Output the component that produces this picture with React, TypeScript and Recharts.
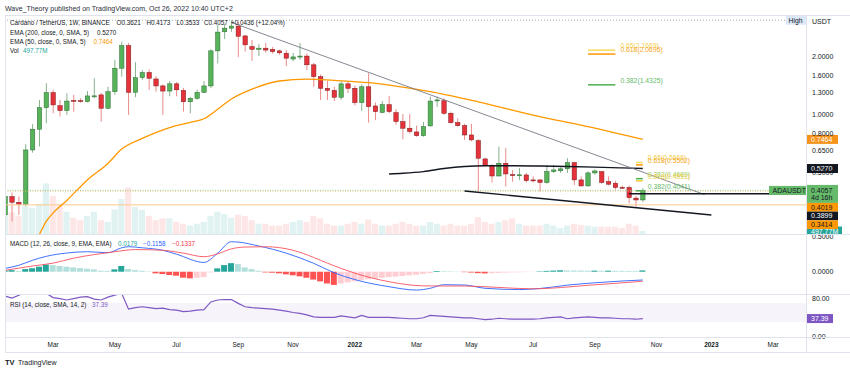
import React from 'react';
import { ComposedChart, Bar, Line, XAxis, YAxis, ReferenceLine, ReferenceArea, Cell } from 'recharts';

const FONT = '"Liberation Sans", Arial, Helvetica, sans-serif';
const TXT = '#131722';

// ---------- weekly candles ADA/USDT (index 0 = week of Jan 11 2021 ... 93 = Oct 24 2022)
const opens = [0.303,0.377,0.352,0.344,0.658,0.843,1.09,1.306,1.117,1.053,1.19,1.186,1.172,1.255,1.27,1.083,1.32,1.747,2.29,1.31,1.56,1.66,1.537,1.414,1.33,1.45,1.34,1.17,1.22,1.31,1.414,2.15,2.70,2.82,2.89,2.57,2.26,2.19,2.22,2.19,2.15,2.09,1.95,2.0,2.02,1.82,1.58,1.375,1.34,1.235,1.45,1.375,1.158,1.40,1.113,1.03,1.13,1.028,0.923,0.853,0.816,0.78,0.877,1.19,1.186,1.02,0.912,0.88,0.787,0.736,0.591,0.546,0.482,0.561,0.490,0.487,0.488,0.460,0.46,0.446,0.508,0.513,0.525,0.566,0.46,0.428,0.50,0.508,0.451,0.442,0.421,0.42,0.37,0.3621];
const highs = [0.39,0.395,0.377,0.705,0.895,1.196,1.46,1.35,1.196,1.296,1.27,1.22,1.33,1.55,1.30,1.40,1.93,2.40,2.36,1.88,1.71,1.72,1.59,1.44,1.50,1.48,1.38,1.24,1.35,1.50,2.19,2.93,2.96,3.10,3.04,2.60,2.45,2.33,2.36,2.25,2.18,2.17,2.10,2.36,2.08,1.86,1.62,1.50,1.40,1.50,1.50,1.42,1.44,1.645,1.16,1.18,1.255,1.07,1.01,1.012,0.88,0.92,1.245,1.245,1.22,1.04,0.96,0.90,0.898,0.75,0.60,0.555,0.685,0.672,0.518,0.53,0.50,0.48,0.461,0.55,0.55,0.535,0.596,0.57,0.48,0.51,0.52,0.512,0.48,0.455,0.43,0.43,0.38,0.4173];
const lows = [0.29,0.28,0.303,0.335,0.637,0.685,0.905,1.02,0.98,1.0,1.04,1.16,1.16,1.22,0.923,1.07,1.27,1.58,1.0,1.235,1.52,1.35,1.32,1.0,1.25,1.25,1.04,1.02,1.20,1.30,1.376,1.85,2.48,2.70,2.0,2.13,1.91,2.02,2.10,2.08,2.05,1.79,1.90,1.93,1.71,1.40,1.196,1.196,1.18,1.20,1.30,1.12,1.05,0.912,0.94,1.02,1.02,0.887,0.748,0.80,0.77,0.77,0.87,1.10,1.0,0.90,0.87,0.742,0.73,0.40,0.54,0.446,0.48,0.425,0.45,0.46,0.446,0.446,0.40,0.44,0.50,0.50,0.50,0.433,0.425,0.425,0.49,0.44,0.43,0.41,0.415,0.348,0.334,0.3533];
const closes = [0.377,0.352,0.344,0.658,0.843,1.09,1.306,1.127,1.053,1.18,1.182,1.183,1.255,1.256,1.083,1.32,1.747,2.29,1.31,1.56,1.66,1.55,1.414,1.33,1.45,1.35,1.17,1.22,1.31,1.414,2.15,2.69,2.82,2.89,2.56,2.31,2.19,2.22,2.17,2.13,2.10,1.97,2.0,2.02,1.82,1.58,1.375,1.34,1.235,1.45,1.375,1.158,1.40,1.104,1.04,1.13,1.04,0.923,0.853,0.82,0.78,0.87,1.18,1.196,1.02,0.912,0.88,0.787,0.742,0.596,0.546,0.482,0.561,0.494,0.487,0.489,0.456,0.459,0.446,0.508,0.518,0.525,0.566,0.46,0.428,0.50,0.512,0.446,0.437,0.42,0.419,0.372,0.362,0.4057];
// volume, millions of ADA
const volumeM = [3300,3600,3000,4600,4300,5000,8400,6300,5000,3700,2700,2300,3000,3700,2300,2000,4100,5800,7700,4500,4000,3000,2300,2600,2600,2000,1700,1400,1700,2000,3000,3700,3300,2700,3200,3000,2300,1700,1700,1400,1400,1700,2000,2300,2000,3000,2600,1700,1400,1400,1700,2000,1700,2400,1700,1400,1400,1700,2000,1700,1400,1400,2000,1700,1400,1700,1400,1400,1700,2800,2000,1700,2000,2300,2600,1700,1400,1400,1400,1700,1400,1000,1400,1700,1500,1400,1200,1200,1200,1200,1000,1700,1400,497.77];

// moving averages: [week index, value]
const ema50Pts: [number, number][] = [[4,0.21],[5,0.24],[6,0.28],[7,0.31],[9,0.36],[12,0.46],[15,0.56],[17,0.665],[20,0.755],[24,0.86],[27,0.915],[29,0.955],[31,1.07],[33,1.21],[36,1.36],[40,1.50],[44,1.535],[48,1.51],[53,1.47],[57,1.41],[62,1.32],[69,1.17],[78,0.98],[84,0.885],[93,0.7464]];
const ema200Pts: [number, number][] = [[56,0.494],[58,0.498],[61,0.508],[64,0.527],[67,0.54],[70,0.545],[74,0.545],[78,0.543],[82,0.54],[86,0.536],[90,0.531],[93,0.527]];

// drawn trend lines: [week index, price]
const upperTrend: [number, number][] = [[33,3.02],[102,0.386]];
const lowerTrend: [number, number][] = [[67,0.403],[103,0.3025]];
const supportRay: [number, number][] = [[91,0.3899],[117,0.3899]];

// horizontal levels
const allTimeHigh = 3.10;
const lastClose = 0.4057;
const ema200Last = 0.5270;
const ema50Last = 0.7464;
const orangeDotted = 0.4019;
const orangeSolid = 0.3414;
const stackedLevels = [
  { value: 0.4019, bg: '#ff9800', fg: TXT },
  { value: 0.3899, bg: '#131722', fg: '#ffffff' },
  { value: 0.3414, bg: '#ff9800', fg: TXT },
];
const lastVolumeM = 497.77;

// fibonacci levels
const fibUpperSpan = [85, 89];
const fibUpper = [
  { text: '0.65(2.1669)', value: 2.1669, line: '#f7dc5a', color: '#f2cf4a' },
  { text: '0.618(2.0695)', value: 2.0695, line: '#ff9800', color: '#f5a623' },
  { text: '0.382(1.4325)', value: 1.4325, line: '#4caf50', color: '#66bb6a' },
];
const fibLowerSpan = [92, 93];
const fibLower = [
  { text: '0.65(0.5666)', value: 0.5666, line: '#f7dc5a', color: '#f2cf4a' },
  { text: '0.618(0.5502)', value: 0.5502, line: '#ff9800', color: '#f5a623' },
  { text: '0.382(0.4669)', value: 0.4669, line: '#4caf50', color: '#9ccc65' },
  { text: '0.618(0.4551)', value: 0.4551, line: '#f7d23a', color: '#f2cf4a' },
  { text: '0.382(0.4041)', value: 0.4041, line: '#4caf50', color: '#66bb6a' },
];

// MACD (12, 26, 9)
const macdPts: [number, number][] = [[0,0.047],[2,0.09],[4,0.16],[6,0.215],[9,0.262],[12,0.28],[15,0.266],[17,0.335],[18,0.35],[20,0.335],[23,0.30],[25,0.245],[29,0.13],[31,0.26],[33,0.42],[34,0.415],[37,0.36],[41,0.26],[45,0.118],[48,-0.015],[51,-0.11],[56,-0.21],[60,-0.257],[62,-0.232],[64,-0.182],[67,-0.186],[70,-0.232],[75,-0.25],[78,-0.235],[82,-0.188],[86,-0.155],[90,-0.13],[93,-0.1158]];
const signalPts: [number, number][] = [[0,0.02],[4,0.08],[7,0.12],[10,0.19],[13,0.24],[16,0.28],[19,0.31],[23,0.30],[26,0.26],[29,0.21],[31,0.25],[33,0.32],[35,0.345],[38,0.35],[42,0.30],[45,0.20],[47,0.12],[51,-0.02],[56,-0.14],[61,-0.198],[64,-0.20],[67,-0.20],[72,-0.22],[77,-0.24],[81,-0.222],[85,-0.19],[88,-0.17],[93,-0.1337]];
const histogram = [0.018,0.022,0.012,0.037,0.047,0.07,0.10,0.093,0.08,0.07,0.06,0.05,0.042,0.033,0.014,0.012,0.033,0.08,0.037,0.023,0.014,0.005,-0.023,-0.033,-0.047,-0.056,-0.084,-0.093,-0.084,-0.075,-0.01,0.047,0.093,0.12,0.107,0.06,0.037,0.014,-0.01,-0.014,-0.023,-0.037,-0.05,-0.065,-0.085,-0.11,-0.135,-0.165,-0.185,-0.165,-0.15,-0.135,-0.12,-0.105,-0.095,-0.085,-0.075,-0.068,-0.06,-0.05,-0.042,-0.03,-0.02,0.01,0.008,0.006,0.004,-0.006,-0.012,-0.02,-0.024,-0.02,-0.016,-0.012,-0.01,-0.008,-0.005,-0.003,0.006,0.012,0.016,0.02,0.018,0.017,0.016,0.015,0.015,0.014,0.014,0.013,0.012,0.011,0.01,0.0179];

// RSI (14)
const rsi = [84,80,86,92,94,93,90,81,79,76,79,82,83,78,76,82,86,90,57,60,62,60,58,59,56,55,52,53,55,56,72,76,77,77,69,62,60,59,58,57,55,53,50,48,45,41,40,40,40,43,41,39,44,40,40,40,40,39,38,37,37,39,44,43,42,41,40,39,39,37,35,36,38,37,36,36,36,36,37,39,40,41,37,39,40,41,40,39,39,38,37,37,36,37.39];

const priceTicks = [2, 1.6, 1.3, 1, 0.8, 0.65, 0.5];
const monthTicks = [7, 16, 25, 34, 42, 51, 60, 68, 77, 86, 95, 103, 112];
const monthLabels = ['Mar', 'May', 'Jul', 'Sep', 'Nov', '2022', 'Mar', 'May', 'Jul', 'Sep', 'Nov', '2023', 'Mar'];

// ---------- tables ----------
const X_DOMAIN: [number, number] = [-0.015, 116.8];
const N_ROWS = 118;
const m50 = new Map(ema50Pts);
const m200 = new Map(ema200Pts);
const mUp = new Map(upperTrend);
const mLow = new Map(lowerTrend);
const mRay = new Map(supportRay);
const mMacd = new Map(macdPts);
const mSig = new Map(signalPts);

const mainRows = Array.from({ length: N_ROWS }, (_, i) => {
  const r: any = { x: i };
  if (i < opens.length) {
    r.o = opens[i]; r.h = highs[i]; r.l = lows[i]; r.c = closes[i];
    r.range = [lows[i], highs[i]];
  }
  r.ema50 = m50.has(i) ? m50.get(i) : null;
  r.ema200 = m200.has(i) ? m200.get(i) : null;
  r.upper = mUp.has(i) ? mUp.get(i) : null;
  r.lower = mLow.has(i) ? mLow.get(i) : null;
  r.ray = mRay.has(i) ? mRay.get(i) : null;
  return r;
});
const volRows = volumeM.map((v, i) => ({ x: i, v, up: closes[i] >= opens[i] }));
const macdRows = histogram.map((h, i) => ({
  x: i, hist: h,
  macd: mMacd.has(i) ? mMacd.get(i) : null,
  signal: mSig.has(i) ? mSig.get(i) : null,
}));
const histColor = (i: number) => {
  const v = histogram[i];
  const p = i > 0 ? histogram[i - 1] : v;
  if (v >= 0) return v >= p ? '#26a69a' : '#b2dfdb';
  return v < p ? '#ff5252' : '#ffcdd2';
};
const rsiRows = rsi.map((v, i) => ({ x: i, rsi: v }));

// ---------- shapes ----------
const Candle = (props: any) => {
  const { x, y, width, height, payload } = props;
  if (!payload || payload.o == null || !isFinite(y) || !isFinite(height)) return null;
  const { o, h, l, c } = payload;
  const yHi = Math.min(y, y + height);
  const yLo = Math.max(y, y + height);
  const lh = Math.log(h), ll = Math.log(l);
  const span = lh - ll;
  const toY = (p: number) => (span > 0 ? yHi + ((lh - Math.log(p)) / span) * (yLo - yHi) : yHi);
  const cx = x + width / 2;
  const up = c >= o;
  const bTop = toY(Math.max(o, c));
  const bBot = toY(Math.min(o, c));
  const bw = 4.4;
  return (
    <g>
      <line x1={cx} x2={cx} y1={yHi} y2={yLo} stroke={up ? '#86b28d' : '#e88a8a'} strokeWidth={1} />
      <rect x={cx - bw / 2} y={bTop} width={bw} height={Math.max(bBot - bTop, 1)}
        fill={up ? '#56b35a' : '#e5323b'} stroke={up ? '#2e6b31' : '#7d1b1b'} strokeWidth={0.5} />
    </g>
  );
};

const AxisBox = (props: any) => {
  const { viewBox, text, bg, fg, w = 32 } = props;
  if (!viewBox) return null;
  const x = viewBox.x + viewBox.width;
  const y = viewBox.y;
  return (
    <g>
      <rect x={x} y={y - 4.5} width={w} height={9} fill={bg} />
      <text x={x + 5} y={y + 2.5} fontSize={7} fill={fg} fontFamily={FONT}>{text}</text>
    </g>
  );
};

const PriceStack = (props: any) => {
  const { viewBox } = props;
  if (!viewBox) return null;
  const x = viewBox.x + viewBox.width;
  const y = viewBox.y;
  const top = y - 5.5;
  return (
    <g>
      <rect x={x - 37} y={y - 4.5} width={37} height={9} fill="#66bb6a" />
      <text x={x - 33.5} y={y + 2.5} fontSize={7} fill={TXT} fontFamily={FONT}>ADAUSDT</text>
      <rect x={x} y={top} width={32} height={18} fill="#66bb6a" />
      <text x={x + 5} y={y + 2.5} fontSize={7} fill={TXT} fontFamily={FONT}>{lastClose.toFixed(4)}</text>
      <text x={x + 5} y={y + 9.8} fontSize={7} fill={TXT} fontFamily={FONT}>4d 16h</text>
      {stackedLevels.map((s, k) => {
        const t = top + 18 + k * 8.7;
        return (
          <g key={s.value}>
            <rect x={x} y={t} width={32} height={8.7} fill={s.bg} />
            <text x={x + 5} y={t + 6.8} fontSize={7} fill={s.fg} fontFamily={FONT}>{s.value.toFixed(4)}</text>
          </g>
        );
      })}
    </g>
  );
};

const HighTag = (props: any) => {
  const { viewBox } = props;
  if (!viewBox) return null;
  const x = viewBox.x + viewBox.width;
  const y = viewBox.y;
  return (
    <g>
      <rect x={x - 20} y={y - 4.5} width={20} height={9} fill="#dde8f7" />
      <text x={x - 17.5} y={y + 2.4} fontSize={6.8} fill={TXT} fontFamily={FONT}>High</text>
    </g>
  );
};

const FibLabel = (props: any) => {
  const { viewBox, text, color } = props;
  if (!viewBox) return null;
  const x = viewBox.x + (viewBox.width || 0) + 5;
  const y = viewBox.y;
  return <text x={x} y={y - 2} fontSize={6.8} fill={color} fontFamily={FONT}>{text}</text>;
};

const TimeTick = (props: any) => {
  const { x, y, payload } = props;
  const idx = monthTicks.indexOf(payload.value);
  const label = idx >= 0 ? monthLabels[idx] : '';
  const bold = /^\d{4}$/.test(label);
  return (
    <text x={x} y={y + 7.5} textAnchor="middle" fontSize={6.5} fontFamily={FONT} fill={TXT} fontWeight={bold ? 700 : 400}>{label}</text>
  );
};

const tickStyle = { fontSize: 7, fill: TXT, fontFamily: FONT };

export default function App() {
  return (
    <div style={{ position: 'absolute', left: 0, top: 0, width: 850, height: 371, background: '#fff', overflow: 'hidden', fontFamily: FONT }}>
      {/* volume underlay */}
      <div style={{ position: 'absolute', left: 0, top: 15 }}>
        <ComposedChart width={850} height={219} data={volRows} margin={{ top: 0, right: 44, bottom: 0, left: 5 }}>
          <XAxis dataKey="x" type="number" domain={X_DOMAIN} hide allowDataOverflow />
          <YAxis domain={[0, 36350]} hide allowDataOverflow />
          <Bar dataKey="v" barSize={7} isAnimationActive={false}>
            {volRows.map((r, i) => (
              <Cell key={i} fill={r.up ? '#26a69a' : '#ef5350'} fillOpacity={0.14} />
            ))}
          </Bar>
          <ReferenceLine y={lastVolumeM} stroke="none" ifOverflow="visible"
            label={<AxisBox text="497.77M" bg="#26a69a" fg="#ffffff" w={36} />} />
        </ComposedChart>
      </div>

      {/* price pane */}
      <div style={{ position: 'absolute', left: 0, top: 15 }}>
        <ComposedChart width={850} height={219} data={mainRows} margin={{ top: 0, right: 0, bottom: 0, left: 5 }}>
          <XAxis dataKey="x" type="number" domain={X_DOMAIN} hide allowDataOverflow />
          <YAxis orientation="right" scale="log" domain={[0.241, 3.3]} allowDataOverflow width={44}
            ticks={priceTicks} tickFormatter={(v: number) => v.toFixed(4)} axisLine={false} tickLine={false}
            tickSize={0} tickMargin={6} tick={tickStyle} interval={0} />
          <ReferenceLine y={allTimeHigh} stroke="#9598a1" strokeDasharray="1 2" strokeWidth={0.8} label={<HighTag />} />
          <ReferenceLine y={orangeSolid} stroke="#fcc98c" strokeWidth={1} />
          <ReferenceLine y={orangeDotted} stroke="#fbbf70" strokeDasharray="1 1.5" strokeWidth={0.8} />
          <ReferenceLine y={lastClose} stroke="#81c784" strokeDasharray="1 1.5" strokeWidth={0.8} />
          <Bar dataKey="range" barSize={5} isAnimationActive={false} shape={(p: any) => <Candle {...p} />} />
          <Line dataKey="ema50" type="monotone" stroke="#ff9800" strokeWidth={1.3} dot={false} connectNulls isAnimationActive={false} />
          <Line dataKey="ema200" type="monotone" stroke="#131722" strokeWidth={1.4} dot={false} connectNulls isAnimationActive={false} />
          <Line dataKey="upper" type="linear" stroke="#787b86" strokeWidth={0.9} dot={false} connectNulls isAnimationActive={false} />
          <Line dataKey="lower" type="linear" stroke="#131722" strokeWidth={1.4} dot={false} connectNulls isAnimationActive={false} />
          <Line dataKey="ray" type="linear" stroke="#131722" strokeWidth={1.4} dot={false} connectNulls isAnimationActive={false} />
          {fibUpper.map((f) => (
            <ReferenceLine key={f.text} segment={[{ x: fibUpperSpan[0], y: f.value }, { x: fibUpperSpan[1], y: f.value }]}
              stroke={f.line} strokeWidth={1.5} ifOverflow="visible" label={<FibLabel text={f.text} color={f.color} />} />
          ))}
          {fibLower.map((f) => (
            <ReferenceLine key={f.text} segment={[{ x: fibLowerSpan[0], y: f.value }, { x: fibLowerSpan[1], y: f.value }]}
              stroke={f.line} strokeWidth={1.5} ifOverflow="visible" label={<FibLabel text={f.text} color={f.color} />} />
          ))}
          <ReferenceLine y={ema50Last} stroke="none" ifOverflow="visible" label={<AxisBox text={ema50Last.toFixed(4)} bg="#f7931a" fg="#ffffff" />} />
          <ReferenceLine y={ema200Last} stroke="none" ifOverflow="visible" label={<AxisBox text={ema200Last.toFixed(4)} bg="#131722" fg="#ffffff" />} />
          <ReferenceLine y={lastClose} stroke="none" ifOverflow="visible" label={<PriceStack />} />
        </ComposedChart>
      </div>

      {/* MACD pane */}
      <div style={{ position: 'absolute', left: 0, top: 234 }}>
        <ComposedChart width={850} height={60} data={macdRows} margin={{ top: 0, right: 0, bottom: 0, left: 5 }}>
          <XAxis dataKey="x" type="number" domain={X_DOMAIN} hide allowDataOverflow />
          <YAxis orientation="right" domain={[-0.312, 0.528]} allowDataOverflow width={44} ticks={[0.5, 0]}
            tickFormatter={(v: number) => v.toFixed(4)} axisLine={false} tickLine={false} tickSize={0} tickMargin={6}
            tick={tickStyle} interval={0} />
          <Bar dataKey="hist" barSize={6} isAnimationActive={false}>
            {macdRows.map((r, i) => <Cell key={i} fill={histColor(i)} />)}
          </Bar>
          <Line dataKey="macd" type="monotone" stroke="#2962ff" strokeWidth={0.9} dot={false} connectNulls isAnimationActive={false} />
          <Line dataKey="signal" type="monotone" stroke="#f7525f" strokeWidth={0.9} dot={false} connectNulls isAnimationActive={false} />
        </ComposedChart>
      </div>

      {/* RSI pane + time axis */}
      <div style={{ position: 'absolute', left: 0, top: 294 }}>
        <ComposedChart width={850} height={58} data={rsiRows} margin={{ top: 0, right: 0, bottom: 0, left: 5 }}>
          <XAxis dataKey="x" type="number" domain={X_DOMAIN} allowDataOverflow ticks={monthTicks} interval={0}
            height={15} axisLine={false} tickLine={false} tickSize={0} tick={<TimeTick />} />
          <YAxis orientation="right" domain={[-1, 88.5]} allowDataOverflow width={44} ticks={[80, 0]}
            tickFormatter={(v: number) => v.toFixed(2)} axisLine={false} tickLine={false} tickSize={0} tickMargin={6}
            tick={tickStyle} interval={0} />
          <ReferenceArea y1={30} y2={70} fill="#7e57c2" fillOpacity={0.07} stroke="none" />
          <Line dataKey="rsi" type="linear" stroke="#7e57c2" strokeWidth={1.2} dot={false} isAnimationActive={false} />
          <ReferenceLine y={rsi[rsi.length - 1]} stroke="none" ifOverflow="visible"
            label={<AxisBox text={rsi[rsi.length - 1].toFixed(2)} bg="#7e57c2" fg="#ffffff" w={27} />} />
        </ComposedChart>
      </div>

      {/* chrome and legends */}
      <svg width={850} height={371} style={{ position: 'absolute', left: 0, top: 0, pointerEvents: 'none' }}>
        <g stroke="#e0e3eb" strokeWidth={1}>
          <line x1={5} x2={850} y1={15.5} y2={15.5} />
          <line x1={5} x2={850} y1={234.5} y2={234.5} />
          <line x1={5} x2={850} y1={294.5} y2={294.5} />
          <line x1={5} x2={850} y1={337.5} y2={337.5} />
          <line x1={5} x2={850} y1={352.5} y2={352.5} />
          <line x1={806.5} x2={806.5} y1={15} y2={353} />
          <line x1={5.5} x2={5.5} y1={15} y2={353} />
        </g>
        <text x={5} y={10.5} fontSize={7} fill="#2a2e39" fontFamily={FONT}>Wave_Theory published on TradingView.com, Oct 26, 2022 10:40 UTC+2</text>
        <g fontSize={6.3} fontFamily={FONT} fill={TXT}>
          <text x={10} y={25}>Cardano / TetherUS, 1W, BINANCE</text>
          <text x={116.5} y={25}>O0.3621</text>
          <text x={146.5} y={25}>H0.4173</text>
          <text x={176.5} y={25}>L0.3533</text>
          <text x={204} y={25}>C0.4057</text>
          <text x={231} y={25}>+0.0436 (+12.04%)</text>
          <text x={10} y={34.5}>EMA (200, close, 0, SMA, 5)</text>
          <text x={97} y={34.5}>0.5270</text>
          <text x={10} y={43.5}>EMA (50, close, 0, SMA, 5)</text>
          <text x={93.5} y={43.5} fill="#ff9800">0.7464</text>
          <text x={10} y={52.5}>Vol</text>
          <text x={23} y={52.5} fill="#26a69a">497.77M</text>
          <text x={10} y={246}>MACD (12, 26, close, 9, EMA, EMA)</text>
          <text x={118} y={246} fill="#26a69a">0.0179</text>
          <text x={143} y={246} fill="#2962ff">−0.1158</text>
          <text x={172} y={246} fill="#f23645">−0.1337</text>
          <text x={10} y={306.5}>RSI (14, close, SMA, 14, 2)</text>
          <text x={92} y={306.5} fill="#7e57c2">37.39</text>
        </g>
        <text x={812} y={23.5} fontSize={7} fill={TXT} fontFamily={FONT}>USDT</text>
        <text x={5} y={364.5} fontSize={7.5} fontWeight={700} fill={TXT} fontFamily={FONT}>TV</text>
        <text x={18} y={364.5} fontSize={7} fill={TXT} fontFamily={FONT}>TradingView</text>
      </svg>
    </div>
  );
}
